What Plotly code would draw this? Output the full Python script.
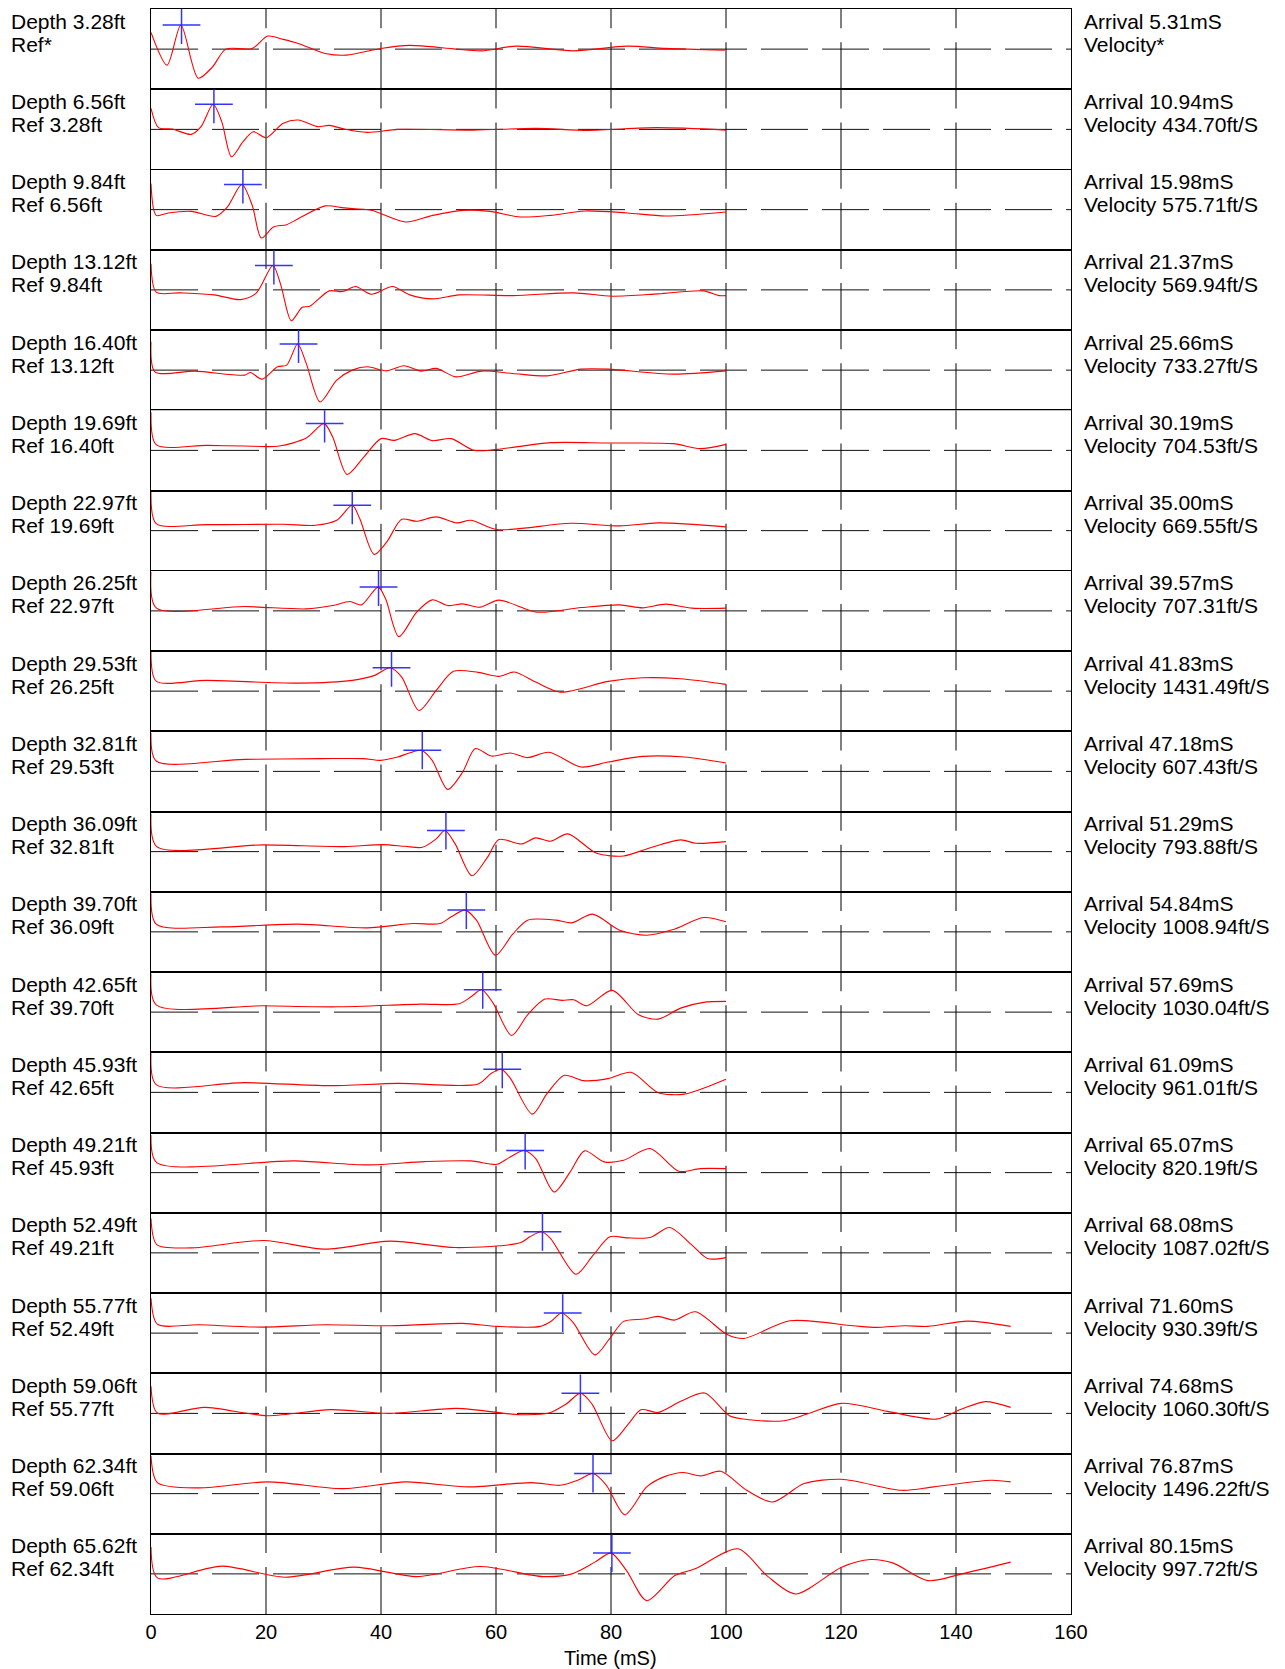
import plotly.graph_objects as go
from plotly.subplots import make_subplots

# ---------------- labels ----------------
depths = ["3.28", "6.56", "9.84", "13.12", "16.40", "19.69", "22.97", "26.25", "29.53", "32.81",
          "36.09", "39.70", "42.65", "45.93", "49.21", "52.49", "55.77", "59.06", "62.34", "65.62"]
refs = ["*", "3.28", "6.56", "9.84", "13.12", "16.40", "19.69", "22.97", "26.25", "29.53",
        "32.81", "36.09", "39.70", "42.65", "45.93", "49.21", "52.49", "55.77", "59.06", "62.34"]
arrivals = [5.31, 10.94, 15.98, 21.37, 25.66, 30.19, 35.00, 39.57, 41.83, 47.18,
            51.29, 54.84, 57.69, 61.09, 65.07, 68.08, 71.60, 74.68, 76.87, 80.15]
velocities = ["*", "434.70", "575.71", "569.94", "733.27", "704.53", "669.55", "707.31", "1431.49", "607.43",
              "793.88", "1008.94", "1030.04", "961.01", "820.19", "1087.02", "930.39", "1060.30", "1496.22", "997.72"]
arrival_amp = [24, 25, 25, 24.3, 26, 26.7, 25.3, 23.7, 23.3, 21,
               21, 21.7, 22.3, 23, 22, 21, 20, 20, 20, 20.7]

x_ticks = [0, 20, 40, 60, 80, 100, 120, 140, 160]

# ---------------- waveforms (time mS, amplitude) ----------------
t_01 = [0, 2.8, 5.2, 8.2, 10.7, 13, 17.6, 20.3, 23, 25.6, 30.3, 34, 40, 45, 53, 57.5, 63.5, 73.5, 82.8, 89.5, 99.8]
a_01 = [16.7, -16, 24, -29, -17.7, 0, 0.7, 13, 9.7, 5.7, -4.3, -6, 0.7, 3.7, 0, -1.7, 3, -1.7, 3, 0.7, -1]

t_02 = [0, 1.3, 3.7, 7, 8.7, 10.8, 12.3, 14, 16, 17.8, 20, 23, 25.6, 29, 31, 33.6, 37.6, 43, 56, 67, 76, 88, 100]
a_02 = [21, 1.7, 0.3, -5, 2.7, 25, 7.7, -27.3, -12.3, -2.3, -8.3, 6, 9.3, 2.7, 4, 0.3, -3, 0, -0.7, 1, -1, 1.7, -0.7]

t_03 = [0, 0.9, 3, 7, 11.3, 13.3, 15.8, 17.6, 19.2, 21.3, 23.6, 25.6, 30.3, 33.6, 38.3, 44.3, 49, 54.2, 58.9, 64.2, 69.5, 75.5, 82.8, 89.5, 100]
a_03 = [26, -5.7, -3.3, -1.7, -6.7, 2.7, 25, 4.3, -28.3, -17.3, -15, -9, 3.7, 1.7, -0.7, -12.3, -5.7, -0.7, -1.7, -7.3, -5.7, -1.3, -3.3, -6.3, -2.3]

t_04 = [0, 0.9, 5, 11, 15.6, 18.3, 21.2, 22.6, 24.4, 26.3, 27.6, 31, 33.3, 35.6, 38.3, 42, 45, 49, 53.6, 63, 73.5, 80.2, 88.2, 96.1, 98.8, 100]
a_04 = [26, -2.3, -3, -5, -9.7, -3.3, 24.3, 4.3, -30.7, -17.3, -16.3, -1, -1.7, 3.3, -4.3, 3.3, -5, -9, -5, -5.7, -3, -6.3, -4, -1, -5.7, -5.7]

t_05 = [0, 0.7, 7.7, 16.3, 17.3, 19.3, 22, 23.6, 25.5, 27, 29.4, 32.3, 35, 37.6, 41, 44, 47, 49.6, 53, 57.5, 62.9, 68.9, 74.8, 79.5, 90.8, 100]
a_05 = [28.3, -1.7, -1, -5, -2.3, -9, 3.3, 5, 26, 6.7, -31.7, -10, 0, 3.3, -0.7, 4.3, -1, 1.7, -6.7, -1, -3.3, -5.7, 1, 1, -4, -0.7]

t_06 = [0, 0.9, 9.7, 16.3, 22.3, 27, 30.1, 31.6, 34.1, 37, 40, 42.3, 45.9, 48.9, 52.2, 56.2, 60.2, 69.5, 79.5, 90.8, 95.5, 100]
a_06 = [38, 5.7, 5, 4.3, 4.3, 12.3, 26.7, 13.3, -24, -6.7, 11.7, 10, 16.7, 9.7, 11.7, 0, 1, 7.7, 7.3, 6.7, 1.7, 6]

t_07 = [0, 0.9, 9.7, 23, 28.6, 32.3, 35, 36.3, 38.8, 41, 43.6, 46.2, 49.6, 53.2, 55.6, 60.2, 72.9, 81.5, 88.2, 100]
a_07 = [38.7, 7, 6, 6.3, 5.3, 10.3, 25.3, 12, -23.7, -11.3, 11.3, 9.3, 13.7, 7.7, 10.3, 1, 7.3, 4.7, 7.7, 3.7]

t_08 = [0, 0.9, 16.3, 27, 31.6, 34.6, 36.6, 39.5, 40.8, 43.1, 46.2, 48.9, 51.6, 54.2, 57.2, 60.5, 67.2, 74.8, 81.5, 85.5, 89.5, 94.1, 100]
a_08 = [38.7, 3, 4.3, 2, 5.3, 9.3, 6, 23.7, 12, -25.7, -1.3, 11, 5.3, 7, 3.7, 10.7, -1.3, 3.3, 6, 3, 6.7, 2.7, 2.7]

t_09 = [0, 0.9, 9.7, 25.6, 35, 38.9, 41.6, 43.6, 46.6, 49.6, 52.6, 56.9, 60.5, 63.2, 66.9, 71.2, 79.5, 85.5, 92.1, 100]
a_09 = [39, 10, 10.7, 8, 10.7, 15.7, 23.3, 14, -19.3, 0.7, 19.7, 18.7, 14.7, 19, 9, -1, 9.7, 13.3, 12.3, 6.7]

t_10 = [0, 0.9, 16.3, 29.6, 36.9, 39.9, 42.9, 44.9, 47, 48.9, 51.6, 54.2, 56.4, 59.2, 62.5, 65.5, 69.2, 74.8, 79.5, 85.5, 92.8, 100]
a_10 = [38.3, 10.3, 12, 12.7, 12.7, 11, 14.3, 18.3, 21, 11, -18, -0.7, 22.7, 15.3, 18.3, 13.7, 19, 4.3, 9.3, 15, 14.3, 8.3]

t_11 = [0, 1, 19.6, 33.6, 40.3, 44.2, 47.2, 49.6, 51.1, 52.9, 55.8, 58.5, 60.5, 64.5, 66.9, 69.5, 72.5, 77.5, 82.2, 86.2, 92.1, 94.8, 100]
a_11 = [37.7, 5, 6.7, 5, 7, 5.3, 4.3, 12.7, 21, 7.7, -24, -5.7, 12, 7.7, 13.7, 10.3, 17.7, -1.7, -4.3, 2.7, 11.7, 8.3, 10]

t_12 = [0, 0.9, 12.3, 25.6, 37.6, 45.6, 50.3, 52.2, 54.6, 56.6, 59.9, 62.9, 65.5, 70.5, 73.2, 76.8, 81.5, 86.2, 90.8, 96.1, 100]
a_12 = [38.3, 7.7, 5, 7.7, 4, 8.3, 8.3, 15, 21.7, 11.7, -23.3, -2.3, 11.7, 11.7, 9, 17.7, 1.7, -3.3, 2.3, 14.3, 10]

t_13 = [0, 0.9, 19.6, 32.3, 46.9, 53.6, 55.6, 57.5, 59.5, 62.7, 65.5, 68.5, 71.5, 73.5, 75.8, 80.2, 84.8, 88.2, 92.1, 96.1, 100]
a_13 = [38.3, 7.3, 6.3, 5.3, 8, 8.3, 15, 22.3, 9, -23.3, -2.7, 13, 11.7, 12.3, 6.3, 21.7, -2.7, -7, 4, 9.7, 10.7]

t_14 = [0, 0.9, 16.3, 30.9, 42.9, 56.9, 59.2, 60.9, 62.5, 66.3, 68.9, 71.9, 75.2, 79.5, 83.5, 88.2, 92.8, 96.8, 100]
a_14 = [39, 7.7, 9.7, 6.7, 9, 8.3, 19, 23, 14, -21.7, -1, 17, 11.7, 13.7, 20, -0.3, -1.7, 5.7, 13]

t_15 = [0, 1, 25, 37.6, 47.6, 55.6, 60.2, 62.2, 64.9, 66.9, 70.1, 72.9, 75.4, 78.8, 82.2, 86.8, 91.8, 95.5, 100]
a_15 = [37.3, 10, 11.7, 7.7, 11, 11.7, 8.3, 14.7, 22, 14, -19.3, 0.7, 21.7, 10.7, 12.3, 24, 1.3, 4, 4]

t_16 = [0, 1, 7, 19.6, 30.3, 41.6, 52.9, 64.2, 65.9, 67.9, 69.5, 73.9, 76.9, 79.8, 82.8, 86.8, 90.2, 94.1, 96.8, 100]
a_16 = [34.3, 8.3, 5, 12.3, 3.7, 11.7, 5.3, 10, 16, 21, 14.3, -21.3, -2.3, 16, 15, 15.3, 25.3, 7.7, -5.7, -4.7]

t_17 = [0, 1.1, 8.3, 19.3, 30.3, 41.3, 54.2, 60.2, 67.7, 69.7, 71.4, 73.4, 77.2, 79.7, 82.2, 85.7, 88.2, 91, 94.7,
        100.1, 103.1, 111.1, 122.1, 126.1, 131.1, 135.1, 142, 149.5]
a_17 = [34.7, 9, 8.3, 6, 8.3, 7.3, 9.7, 6.7, 6.7, 12.3, 20, 10.7, -21.7, -6, 11.7, 14, 16.7, 13, 21.3,
        -1, -5.3, 12.3, 7.3, 5.7, 7.3, 6.7, 12, 6.7]

t_18 = [0, 1.1, 9.3, 20.3, 31.3, 41.3, 53.2, 64.2, 69.2, 72.2, 74.7, 76.7, 80.2, 83, 85.2, 88.2, 92.1, 96.3,
        100.6, 104.1, 110.1, 114.1, 120.1, 128.1, 136.6, 141, 145.1, 149.5]
a_18 = [27, 0.3, 6, -2.3, 3.7, 0, 5, -1.3, 0.3, 9.3, 20, 9.3, -27.3, -10.7, 3.7, 1, 12, 20.3,
        -2.3, -6.3, -7.3, -0.7, 10, 2, -5.7, 4.3, 11.7, 6]

t_19 = [0, 1.1, 8.3, 20.3, 33.3, 44.3, 55.2, 66.2, 71.2, 74.2, 76.9, 79.2, 82.4, 86.2, 89.2, 92.6, 95.6, 99.1,
        103.6, 108.1, 113.6, 120.1, 130.6, 136.1, 146.1, 149.5]
a_19 = [37.7, 11, 5.7, 11.7, 5, 11.7, 6.7, 11, 8.3, 13.3, 20, 8.3, -21, 6.7, 16.7, 21, 17.7, 22.3,
        3.3, -8.3, 10, 14.3, 3.3, 6.7, 13.3, 11.7]

t_20 = [0, 1.1, 12.3, 23.3, 35.3, 46.3, 57.2, 68.2, 73.2, 77.2, 80, 82.7, 86.2, 91.1, 94.6, 102.1, 107.1, 112.1,
        120.1, 125.1, 129.1, 135.1, 141, 149.5]
a_20 = [26.7, -4, 7.7, -3.3, 6.7, -2.7, 7.3, -2.7, 0, 11.7, 20.7, 3.3, -26.7, -1.7, 5, 25, -1.7, -20,
        6.7, 14.3, 10.7, -6.7, 0, 11.7]

times = [t_01, t_02, t_03, t_04, t_05, t_06, t_07, t_08, t_09, t_10,
         t_11, t_12, t_13, t_14, t_15, t_16, t_17, t_18, t_19, t_20]
amps = [a_01, a_02, a_03, a_04, a_05, a_06, a_07, a_08, a_09, a_10,
        a_11, a_12, a_13, a_14, a_15, a_16, a_17, a_18, a_19, a_20]

N = len(depths)
FONT = "Liberation Sans, Arial, Helvetica, sans-serif"

fig = make_subplots(rows=N, cols=1, shared_xaxes=True, vertical_spacing=0)

for i in range(N):
    r = i + 1
    fig.add_trace(go.Scatter(x=times[i], y=amps[i], mode="lines",
                             line=dict(color="#ff0000", width=1.1, shape="spline", smoothing=0.8),
                             hoverinfo="skip", showlegend=False), row=r, col=1)
    fig.add_trace(go.Scatter(x=[arrivals[i]], y=[arrival_amp[i]], mode="markers",
                             marker=dict(symbol="cross-thin", size=27,
                                         line=dict(color="rgba(30,30,255,0.9)", width=1.5)),
                             hoverinfo="skip", showlegend=False), row=r, col=1)
    xr = "x" if r == 1 else f"x{r}"
    yr = "y" if r == 1 else f"y{r}"
    # dashed zero line
    fig.add_shape(type="line", xref=xr, yref=yr, x0=0, x1=160, y0=0, y1=0,
                  line=dict(color="#111111", width=1, dash="47px,14px"), layer="below")
    # vertical dashed grid lines (drawn bottom -> top)
    for xv in x_ticks[1:-1]:
        fig.add_shape(type="line", xref=xr, yref=yr, x0=xv, x1=xv, y0=-40, y1=40,
                      line=dict(color="#000000", width=1, dash="47px,14px"), layer="below")
    ydom = f"{yr} domain"
    fig.add_annotation(text=f"Depth {depths[i]}ft", xref="paper", yref=ydom, x=-0.154, y=1 - 12 / 80,
                       xanchor="left", yanchor="middle", showarrow=False,
                       font=dict(family=FONT, size=21, color="#000"))
    fig.add_annotation(text=f"Ref{'*' if refs[i] == '*' else ' ' + refs[i] + 'ft'}", xref="paper", yref=ydom,
                       x=-0.154, y=1 - 35 / 80, xanchor="left", yanchor="middle", showarrow=False,
                       font=dict(family=FONT, size=21, color="#000"))
    fig.add_annotation(text=f"Arrival {arrivals[i]:.2f}mS", xref="paper", yref=ydom, x=1.012, y=1 - 12 / 80,
                       xanchor="left", yanchor="middle", showarrow=False,
                       font=dict(family=FONT, size=21, color="#000"))
    fig.add_annotation(text=f"Velocity{'*' if velocities[i] == '*' else ' ' + velocities[i] + 'ft/S'}",
                       xref="paper", yref=ydom, x=1.012, y=1 - 35 / 80,
                       xanchor="left", yanchor="middle", showarrow=False,
                       font=dict(family=FONT, size=21, color="#000"))
    fig.update_yaxes(range=[-40, 40], showticklabels=False, showgrid=False, zeroline=False,
                     showline=True, mirror=True, linecolor="#000", linewidth=1, row=r, col=1)
    fig.update_xaxes(range=[0, 160], tickvals=x_ticks, showgrid=False, zeroline=False, ticks="",
                     showline=True, mirror=True, linecolor="#000", linewidth=1,
                     tickfont=dict(family=FONT, size=20, color="#000"), row=r, col=1)

fig.add_annotation(text="Time (mS)", xref="paper", yref="paper", x=0.499, y=0, yshift=-44,
                   xanchor="center", yanchor="middle", showarrow=False,
                   font=dict(family=FONT, size=20, color="#000"))

fig.update_layout(width=1277, height=1661, margin=dict(l=143, r=214, t=1, b=55),
                  paper_bgcolor="white", plot_bgcolor="white", font=dict(family=FONT, color="#000"))

fig.write_html("out.html")
